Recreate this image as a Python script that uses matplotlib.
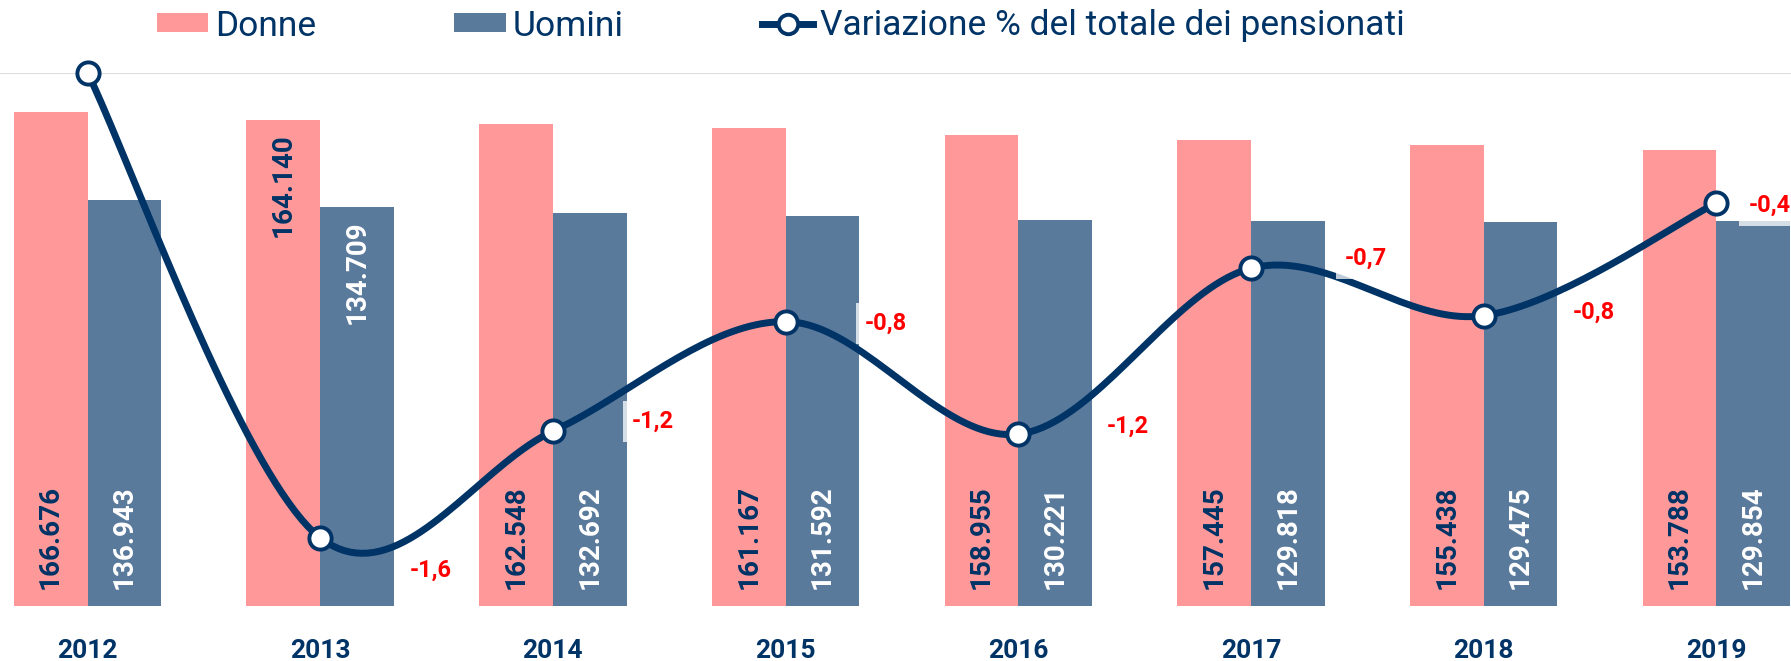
import numpy as np
import matplotlib.pyplot as plt
from matplotlib.lines import Line2D
from matplotlib.patches import Patch

plt.rcParams["font.family"] = ["Roboto", "DejaVu Sans"]

years = ["2012", "2013", "2014", "2015", "2016", "2017", "2018", "2019"]
donne = [166676, 164140, 162548, 161167, 158955, 157445, 155438, 153788]
uomini = [136943, 134709, 132692, 131592, 130221, 129818, 129475, 129854]
# variazione % del totale (2012 has no previous year, drawn at 0 without a label)
variazione = [0.0, -1.57, -1.21, -0.84, -1.22, -0.66, -0.82, -0.44]
show_var_label = [False, True, True, True, True, True, True, True]

PINK = "#FF9999"
SLATE = "#5A7A9C"
NAVY = "#003366"
RED = "#FF0000"

# where each red label sits relative to its point (pixels, right / down)
label_offsets = [(0, 0), (90, 32), (79, -10), (79, 2), (88, -8), (94, -10), (89, -3), (32, 2)]
# 2013 bar labels are placed at the top of the bars
top_labels = [False, True, False, False, False, False, False, False]


def smooth(xs, ys, n=40):
    # excel-like smoothed line: cubic bezier with control points at 1/6 of neighbours
    pts = np.column_stack([xs, ys]).astype(float)
    out = [pts[:1]]
    t = np.linspace(0, 1, n)[1:, None]
    for i in range(len(pts) - 1):
        p0 = pts[max(i - 1, 0)]
        p1 = pts[i]
        p2 = pts[i + 1]
        p3 = pts[min(i + 2, len(pts) - 1)]
        c1 = p1 + (p2 - p0) / 6
        c2 = p2 - (p3 - p1) / 6
        seg = (1 - t) ** 3 * p1 + 3 * (1 - t) ** 2 * t * c1 + 3 * (1 - t) * t ** 2 * c2 + t ** 3 * p2
        out.append(seg)
    return np.vstack(out)


fig = plt.figure(figsize=(17.91, 6.61), dpi=100)
ax = fig.add_axes([0, 1 - 606 / 661, 1, (606 - 72.7) / 661])

x = np.arange(len(years))
w = 0.317
ax.bar(x - w / 2, donne, width=w, color=PINK, zorder=2)
ax.bar(x + w / 2, uomini, width=w, color=SLATE, zorder=2)
ax.axhline(180000, color="#DDDDDD", lw=1.5, zorder=1)

ax.set_xlim(-87.5 / 232.7, (1791 - 87.5) / 232.7)
ax.set_ylim(0, 180000)

for i in range(len(years)):
    for xx, v, col in ((x[i] - w / 2, donne[i], NAVY), (x[i] + w / 2, uomini[i], "white")):
        txt = f"{v:,}".replace(",", ".")
        if top_labels[i]:
            ax.annotate(txt, (xx, v), xytext=(0, -10), textcoords="offset points",
                        rotation=90, ha="center", va="top", color=col,
                        fontsize=20, fontweight="bold", zorder=3)
        else:
            ax.annotate(txt, (xx, 0), xytext=(0, 12), textcoords="offset points",
                        rotation=90, ha="center", va="bottom", color=col,
                        fontsize=20, fontweight="bold", zorder=3)

ax.set_xticks(x)
ax.set_xticklabels(years, fontsize=19, fontweight="bold", color=NAVY)
ax.tick_params(axis="x", length=0, pad=24)
ax.set_yticks([])
for s in ax.spines.values():
    s.set_visible(False)

ax2 = ax.twinx()
ax2.set_ylim(-1.8, 0)
ax2.set_yticks([])
for s in ax2.spines.values():
    s.set_visible(False)

curve = smooth(x, variazione)
ax2.plot(curve[:, 0], curve[:, 1], color=NAVY, lw=5, solid_capstyle="round",
         clip_on=False, zorder=3)
ax2.plot(x, variazione, "o", ms=16, mfc="white", mec=NAVY, mew=2.8,
         clip_on=False, zorder=4)

for i, v in enumerate(variazione):
    if not show_var_label[i]:
        continue
    dx, dy = label_offsets[i]
    ax2.annotate(f"{v:.1f}".replace(".", ","), (x[i], v),
                 xytext=(dx * 0.72, -dy * 0.72), textcoords="offset points",
                 ha="left", va="center", color=RED, fontsize=17, fontweight="bold",
                 bbox=dict(boxstyle="square,pad=0.38", fc="white", ec="none", alpha=0.75),
                 zorder=5)

handles = [
    Patch(facecolor=PINK),
    Patch(facecolor=SLATE),
    Line2D([], [], color=NAVY, lw=5, marker="o", ms=14, mfc="white", mec=NAVY, mew=2.8),
]
fig.legend(handles, ["Donne", "Uomini", "Variazione % del totale dei pensionati"],
           loc="center", bbox_to_anchor=(0.436, 1 - 26 / 661), ncol=3, frameon=False,
           fontsize=25.5, labelcolor=NAVY, handlelength=1.45, handleheight=0.45,
           handletextpad=0.2, columnspacing=3.9, borderpad=0, borderaxespad=0)

fig.savefig("out.png", dpi=100)
